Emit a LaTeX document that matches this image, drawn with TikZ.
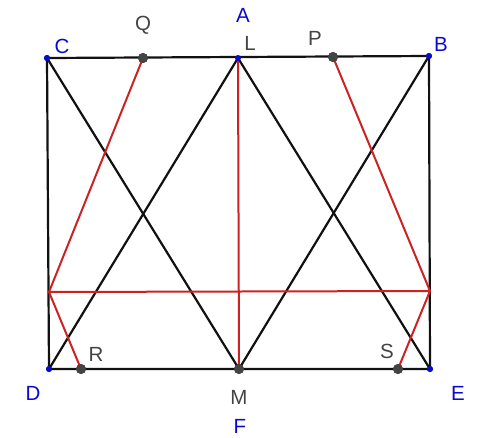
\documentclass[tikz,border=0pt]{standalone}
\usepackage{fontspec}
\setmainfont{Liberation Sans}
\usetikzlibrary{positioning}
\definecolor{ptblue}{HTML}{0A0ACC}
\definecolor{ptgray}{HTML}{444444}
\definecolor{segred}{HTML}{CC2222}
\definecolor{segblack}{HTML}{111111}

\begin{document}
\begin{tikzpicture}[
    x=1pt,
    y=-1pt,
    font=\fontsize{20.5}{24}\selectfont,
    freept/.style={
        circle,
        inner sep=0pt,
        minimum size=6pt,
        fill=ptblue
    },
    onpt/.style={
        circle,
        inner sep=0pt,
        minimum size=10pt,
        fill=ptgray
    },
    bluelabel/.style={text=ptblue},
    graylabel/.style={text=ptgray},
    blackseg/.style={
        draw=segblack,
        line width=2.2pt,
        line cap=round
    },
    redseg/.style={
        draw=segred,
        line width=2pt,
        line cap=round
    }
]

\useasboundingbox (0,0) rectangle (482,437);

% =====================================================
% Points
% =====================================================

\node[freept] (C) at (47,58) {};
\node[freept] (B) at (429,56) {};
\node[freept] (D) at (49,369) {};
\node[freept] (E) at (430,369) {};

\coordinate (Lp) at (238,58);
\node[onpt] (Q) at (143,58) {};
\node[onpt] (P) at (333,57) {};
\node[onpt] (M) at (239,369) {};
\node[onpt] (R) at (81,369) {};
\node[onpt] (S) at (398,369) {};

\coordinate (lmid) at (49,292);
\coordinate (rmid) at (430,291);

% =====================================================
% Segments
% =====================================================

\draw[blackseg] (C.center) -- (B.center) -- (E.center) -- (D.center) -- cycle;
\draw[blackseg] (C.center) -- (M.center);
\draw[blackseg] (Lp) -- (D.center);
\draw[blackseg] (Lp) -- (E.center);
\draw[blackseg] (B.center) -- (M.center);

\draw[redseg] (Lp) -- (M.center);
\draw[redseg] (lmid) -- (rmid);
\draw[redseg] (Q.center) -- (lmid) -- (R.center);
\draw[redseg] (P.center) -- (rmid) -- (S.center);

% redraw dots on top
\node[onpt] at (Q) {};
\node[onpt] at (P) {};
\node[onpt] at (M) {};
\node[onpt] at (R) {};
\node[onpt] at (S) {};
\node[freept] (L) at (Lp) {};
\node[freept] at (C) {};
\node[freept] at (B) {};
\node[freept] at (D) {};
\node[freept] at (E) {};

% =====================================================
% Labels
% =====================================================

\node[bluelabel] (labA) at (243,15) {A};
\node[bluelabel] (labC) at (62,46) {C};
\node[bluelabel] (labB) at (441,44) {B};
\node[bluelabel] (labD) at (33,393) {D};
\node[bluelabel] (labE) at (458,393) {E};
\node[bluelabel] (labF) at (240,426) {F};

\node[graylabel] (labQ) at (143,25) {Q};
\node[graylabel] (labL) at (250,43) {L};
\node[graylabel] (labP) at (315,38) {P};
\node[graylabel] (labR) at (96,354) {R};
\node[graylabel] (labS) at (387,351) {S};
\node[graylabel] (labM) at (239,397) {M};

\end{tikzpicture}
\end{document}
